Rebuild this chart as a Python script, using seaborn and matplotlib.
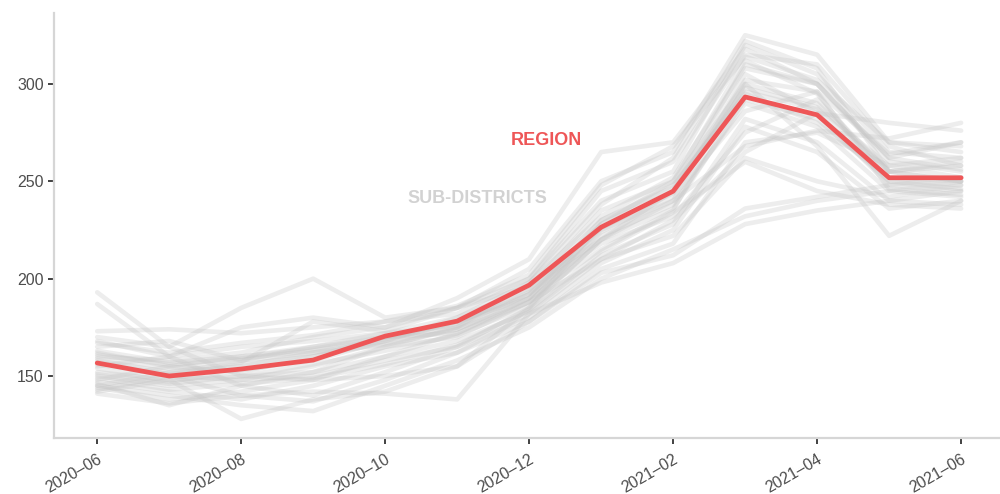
import matplotlib
matplotlib.use('Agg')
import matplotlib.pyplot as plt
import seaborn as sns
import pandas as pd

# monthly values, Jun 2020 .. Jun 2021
months = ['2020-06', '2020-07', '2020-08', '2020-09', '2020-10', '2020-11', '2020-12',
          '2021-01', '2021-02', '2021-03', '2021-04', '2021-05', '2021-06']

region = [156.7, 150.0, 153.6, 158.2, 170.5, 178.2, 196.7, 226.4, 244.9, 293.3, 284.1, 251.8, 251.8]

# sub-district series
s01 = [193, 165, 150, 148, 160, 172, 190, 215, 235, 300, 290, 255, 250]
s02 = [187, 160, 145, 140, 152, 165, 185, 220, 245, 310, 300, 260, 255]
s03 = [173, 174, 172, 175, 178, 182, 200, 240, 255, 320, 305, 265, 262]
s04 = [170, 165, 185, 200, 180, 185, 205, 250, 265, 325, 315, 270, 265]
s05 = [168, 160, 175, 180, 175, 190, 210, 265, 270, 318, 300, 262, 270]
s06 = [165, 168, 158, 165, 172, 180, 195, 235, 250, 312, 295, 250, 248]
s07 = [162, 155, 152, 160, 170, 175, 192, 225, 240, 305, 285, 248, 245]
s08 = [160, 158, 162, 170, 175, 185, 200, 245, 260, 315, 310, 268, 258]
s09 = [158, 152, 155, 162, 168, 178, 190, 230, 248, 295, 280, 252, 250]
s10 = [156, 150, 148, 155, 165, 170, 188, 222, 238, 290, 278, 245, 242]
s11 = [155, 160, 165, 168, 172, 176, 193, 218, 232, 275, 292, 255, 260]
s12 = [152, 148, 150, 152, 160, 168, 183, 212, 228, 282, 270, 240, 238]
s13 = [150, 145, 148, 150, 158, 165, 180, 208, 225, 278, 265, 236, 240]
s14 = [148, 155, 160, 165, 170, 172, 188, 210, 222, 262, 250, 242, 248]
s15 = [147, 142, 138, 145, 155, 162, 178, 205, 218, 270, 275, 258, 262]
s16 = [145, 140, 135, 132, 145, 158, 175, 200, 215, 232, 240, 245, 250]
s17 = [144, 138, 142, 148, 150, 155, 178, 203, 212, 236, 242, 248, 252]
s18 = [143, 150, 140, 137, 148, 162, 182, 210, 230, 265, 285, 280, 276]
s19 = [142, 148, 128, 138, 142, 155, 185, 228, 250, 300, 268, 222, 240]
s20 = [141, 136, 140, 142, 141, 138, 182, 198, 208, 228, 235, 240, 245]
s21 = [146, 135, 145, 152, 165, 175, 198, 238, 262, 322, 308, 255, 250]
s22 = [154, 147, 153, 158, 168, 180, 198, 232, 252, 308, 300, 262, 256]
s23 = [163, 157, 160, 164, 170, 178, 192, 228, 245, 298, 288, 258, 252]
s24 = [167, 162, 167, 171, 178, 186, 202, 248, 268, 314, 302, 270, 268]
s25 = [159, 154, 158, 162, 166, 174, 188, 224, 242, 286, 296, 264, 270]
s26 = [151, 146, 150, 156, 163, 171, 186, 220, 236, 292, 282, 250, 246]
s27 = [149, 143, 146, 149, 156, 166, 184, 214, 234, 260, 245, 238, 236]
s28 = [157, 151, 156, 160, 167, 174, 190, 226, 244, 302, 296, 246, 243]
s29 = [161, 156, 159, 163, 169, 177, 194, 230, 247, 296, 287, 255, 258]
s30 = [145, 152, 157, 178, 173, 185, 196, 220, 240, 268, 276, 272, 280]

subdistricts = [s01, s02, s03, s04, s05, s06, s07, s08, s09, s10, s11, s12, s13, s14, s15,
                s16, s17, s18, s19, s20, s21, s22, s23, s24, s25, s26, s27, s28, s29, s30]

# long table for seaborn
rows = []
for k, vals in enumerate(subdistricts):
    for i, v in enumerate(vals):
        rows.append({'x': i, 'value': v, 'district': k})
sub_df = pd.DataFrame(rows)
reg_df = pd.DataFrame({'x': range(len(months)), 'value': region})

sns.set_style('white')
plt.rcParams['font.family'] = ['Liberation Sans', 'DejaVu Sans']

fig, ax = plt.subplots(figsize=(10, 4.94), dpi=100)
fig.subplots_adjust(left=0.054, right=1.0, bottom=0.1134, top=0.9737)

sns.lineplot(data=sub_df, x='x', y='value', units='district', estimator=None,
             color='#c4c4c4', alpha=0.3, linewidth=3.3, ax=ax, legend=False)
sns.lineplot(data=reg_df, x='x', y='value', color='#ee5657', linewidth=3.4, ax=ax)

ax.set_xlim(-0.6, 12.54)
ax.set_ylim(118.2, 336.4)
ax.set_xticks(range(0, len(months), 2))
ax.set_xticklabels([m.replace('-', '\u2013') for m in months[::2]], rotation=30, ha='right',
                   rotation_mode='anchor')
ax.set_yticks([150, 200, 250, 300])
ax.set_xlabel('')
ax.set_ylabel('')

for side in ['top', 'right']:
    ax.spines[side].set_visible(False)
for side in ['left', 'bottom']:
    ax.spines[side].set_color('#d6d6d6')
    ax.spines[side].set_linewidth(1.6)
ax.tick_params(axis='both', which='major', length=4, width=1.3, color='#333333',
               labelcolor='#4d4d4d', labelsize=11.5, direction='out', bottom=True, left=True)
ax.tick_params(axis='x', pad=6)

ax.text(6.24, 271, 'REGION', color='#ee5657', fontsize=13, fontweight='bold',
        ha='center', va='center', fontstretch='condensed')
ax.text(5.28, 241, 'SUB-DISTRICTS', color='#d2d2d2', fontsize=13, fontweight='bold',
        ha='center', va='center', fontstretch='condensed')

fig.savefig('out.png', dpi=100)
